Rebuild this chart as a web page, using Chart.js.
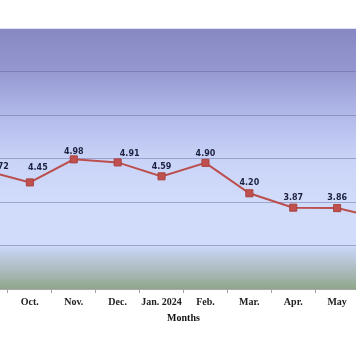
<!DOCTYPE html>
<html>
<head>
<meta charset="utf-8">
<script src="https://cdn.jsdelivr.net/npm/chart.js@4.4.1/dist/chart.umd.min.js"></script>
<style>
  html, body { margin: 0; padding: 0; background: #fff; overflow: hidden; }
  #wrap { position: absolute; left: -42px; top: 0; width: 451px; height: 344px; }
</style>
</head>
<body>
<div id="wrap"><canvas id="chartMeses" width="451" height="344"></canvas></div>
<script>
// Monthly values
const meses = ['Sep.', 'Oct.', 'Nov.', 'Dec.', 'Jan. 2024', 'Feb.', 'Mar.', 'Apr.', 'May', 'Jun.'];
const valores = [4.72, 4.45, 4.98, 4.91, 4.59, 4.90, 4.20, 3.87, 3.86, 3.62];
const yTicks = [2, 3, 4, 5, 6, 7, 8];

// label nudges (px) so the numbers sit like the original layout
const labelDx = [13, 8, 0, 12, 0, 0, 0, 0, 0, 0];
const labelDy = [-4, -15, -7, -8, -9, -9, -10, -10, -10, -10];

// gradient fill behind the plot
const fondo = {
    id: 'fondo',
    beforeDraw(chart) {
        const { ctx, chartArea: a } = chart;
        const g = ctx.createLinearGradient(0, a.top, 0, a.bottom);
        g.addColorStop(0, '#8588c2');
        g.addColorStop(0.165, '#9598d0');
        g.addColorStop(0.335, '#b2baea');
        g.addColorStop(0.5, '#c9d3f7');
        g.addColorStop(0.665, '#d1dcfb');
        g.addColorStop(0.83, '#d0dcfa');
        g.addColorStop(0.86, '#c2cfea');
        g.addColorStop(0.93, '#abbbbc');
        g.addColorStop(1, '#90a68b');
        ctx.save();
        ctx.fillStyle = g;
        ctx.fillRect(a.left, a.top, a.right - a.left, a.bottom - a.top);
        ctx.restore();
    }
};

// value labels above the points
const etiquetas = {
    id: 'etiquetas',
    afterDatasetsDraw(chart) {
        const ctx = chart.ctx;
        const meta = chart.getDatasetMeta(0);
        ctx.save();
        ctx.font = 'bold 8px "DejaVu Sans"';
        ctx.fillStyle = '#1d2140';
        ctx.textAlign = 'center';
        ctx.textBaseline = 'middle';
        meta.data.forEach((p, i) => {
            ctx.fillText(valores[i].toFixed(2), p.x + labelDx[i], p.y + labelDy[i]);
        });
        ctx.restore();
    }
};

const ctx = document.getElementById('chartMeses');
new Chart(ctx, {
    type: 'line',
    data: {
        labels: meses,
        datasets: [{
            data: valores,
            borderColor: '#bb4f4d',
            borderWidth: 2,
            backgroundColor: '#c0504d',
            pointStyle: 'rect',
            pointRadius: 5,
            pointBorderColor: '#a84442',
            pointBorderWidth: 1,
            tension: 0
        }]
    },
    options: {
        responsive: false,
        animation: false,
        layout: { padding: { top: 28, left: 0, right: 0, bottom: 20 } },
        scales: {
            x: {
                offset: true,
                grid: { offset: true, drawOnChartArea: false, drawTicks: true, tickLength: 4, color: '#a0a0a0' },
                border: { display: true, color: '#a8a8a8' },
                ticks: { color: '#222', font: { family: '"Liberation Serif"', size: 10, weight: 'bold' }, padding: 3, maxRotation: 0, autoSkip: false },
                title: { display: true, text: 'Months', color: '#111', font: { family: '"Liberation Serif"', size: 10, weight: 'bold' }, padding: { top: 1, bottom: 0 } }
            },
            y: {
                min: yTicks[0],
                max: yTicks[yTicks.length - 1],
                afterBuildTicks: (s) => { s.ticks = yTicks.map(v => ({ value: v })); },
                ticks: { display: false },
                border: { display: false },
                grid: {
                    drawTicks: false,
                    lineWidth: 1,
                    color: (c) => c.tick.value === 8 ? 'rgba(235,235,255,0.9)' : 'rgba(95,98,150,0.45)'
                }
            }
        },
        plugins: {
            legend: { display: false },
            tooltip: { enabled: false }
        }
    },
    plugins: [fondo, etiquetas]
});
</script>
</body>
</html>
